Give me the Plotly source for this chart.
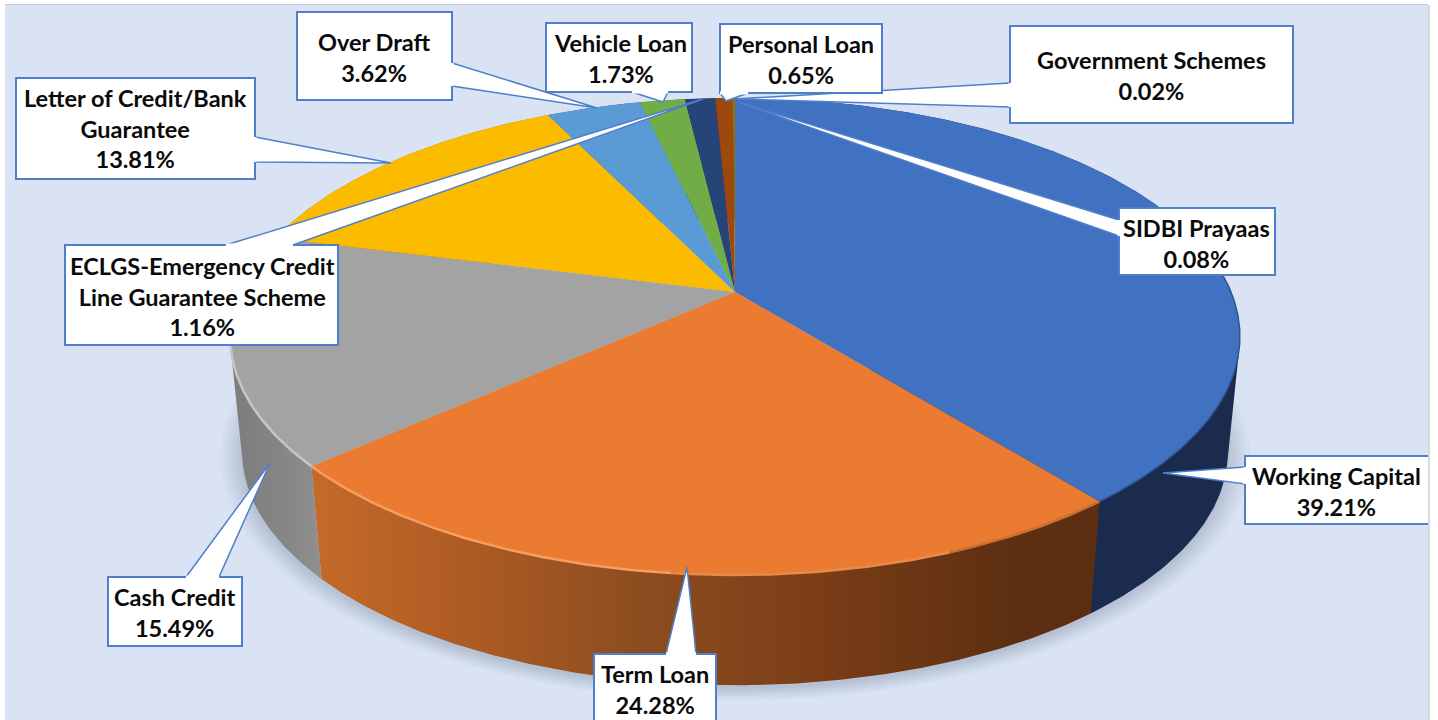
import numpy as np
import plotly.graph_objects as go

# ---------- data ----------
categories = ["Working Capital", "Term Loan", "Cash Credit", "Letter of Credit/Bank Guarantee",
              "Over Draft", "Vehicle Loan", "ECLGS-Emergency Credit Line Guarantee Scheme",
              "Personal Loan", "Government Schemes", "SIDBI Prayaas"]
values = [39.21, 24.28, 15.49, 13.81, 3.62, 1.73, 1.16, 0.65, 0.02, 0.08]
label_texts = ["Working Capital", "Term Loan", "Cash Credit", "Letter of Credit/Bank<br>Guarantee",
               "Over Draft", "Vehicle Loan", "ECLGS-Emergency Credit<br>Line Guarantee Scheme",
               "Personal Loan", "Government Schemes", "SIDBI Prayaas"]

# ---------- styles ----------
top_colors = ["#4171C1", "#EB7B30", "#A3A3A3", "#FBBC00", "#5B9BD5", "#70AD47",
              "#264478", "#9E480E", "#636363", "#997300"]
side_scales = [
    [[0, "#1B2B4D"], [1, "#1B2B4D"]],
    [[0, "#C56A2A"], [0.2, "#AD5B23"], [0.4, "#8F4E20"], [0.65, "#7A3D17"], [0.88, "#5E2F11"], [1, "#5C2E12"]],
    [[0, "#7C7C7C"], [0.6, "#868686"], [1, "#909090"]],
    [[0, "#A88000"], [1, "#A88000"]],
    [[0, "#3D6C96"], [1, "#3D6C96"]],
    [[0, "#4E7A32"], [1, "#4E7A32"]],
    [[0, "#1A3054"], [1, "#1A3054"]],
    [[0, "#6E320A"], [1, "#6E320A"]],
    [[0, "#454545"], [1, "#454545"]],
    [[0, "#6B5000"], [1, "#6B5000"]],
]
BG, WHITE, EDGE, INK = "#DAE3F3", "#FFFFFF", "#4F7FCB", "#0A0A0A"
FONT = dict(family="Lato, Carlito, Calibri, sans-serif", size=23.5, color=INK, weight=700)

# ---------- geometry (pixels on the axes) ----------
CX, CY_TOP, CY_BOT, A_R, B_R, TILT, BOT_SCALE = 735.0, 292.0, 409.0, 496.0, 230.2, 0.1866, 0.976


def ring(theta_deg, cy=CY_TOP, scale=1.0):
    t = np.radians(np.asarray(theta_deg, dtype=float))
    depth = -np.cos(t)
    d = 1 - TILT * depth
    return CX + scale * A_R * np.sin(t) / d, cy + scale * B_R * depth / d


def arc(a0, a1, **kw):
    n = max(3, int(abs(a1 - a0) * 2) + 2)
    return ring(np.linspace(a0, a1, n), **kw)


def hull(xs, ys):
    """Convex hull (monotone chain), so the wall follows the straight silhouette between rims."""
    pts = sorted(set(zip(np.round(xs, 3).tolist(), np.round(ys, 3).tolist())))

    def half(seq):
        out = []
        for p in seq:
            while len(out) > 1 and ((out[-1][0] - out[-2][0]) * (p[1] - out[-2][1])
                                    - (out[-1][1] - out[-2][1]) * (p[0] - out[-2][0])) <= 0:
                out.pop()
            out.append(p)
        return out[:-1]

    ring_pts = half(pts) + half(pts[::-1])
    ring_pts.append(ring_pts[0])
    return [p[0] for p in ring_pts], [p[1] for p in ring_pts]


shares = np.array(values) / sum(values) * 360.0
ends = np.cumsum(shares)
starts = ends - shares

fig = go.Figure()

# soft drop shadow under the pie
for grow, alpha in zip([22, 18, 14, 10, 6, 2], [0.035, 0.04, 0.04, 0.045, 0.05, 0.05]):
    sx, sy = arc(0, 360, cy=CY_BOT + 3, scale=BOT_SCALE + grow / 505.0)
    fig.add_trace(go.Scatter(x=sx, y=sy, mode="lines", line=dict(width=0), fill="toself",
                             fillcolor=f"rgba(70,90,120,{alpha})", hoverinfo="skip", showlegend=False))

# extruded side walls
for name, a0, a1, scale_c in zip(categories, starts, ends, side_scales):
    tx, ty = arc(a0, a1)
    bx, by = arc(a1, a0, cy=CY_BOT, scale=BOT_SCALE)
    hx, hy = hull(np.r_[tx, bx], np.r_[ty, by])
    fig.add_trace(go.Scatter(x=hx, y=hy, mode="lines", line=dict(width=0),
                             fill="toself", fillgradient=dict(type="horizontal", colorscale=scale_c),
                             name=name, hoverinfo="skip", showlegend=False))

# top faces
for name, val, a0, a1, color in zip(categories, values, starts, ends, top_colors):
    tx, ty = arc(a0, a1)
    fig.add_trace(go.Scatter(x=np.r_[CX, tx, CX], y=np.r_[CY_TOP, ty, CY_TOP], mode="lines",
                             line=dict(width=0), fill="toself", fillcolor=color, name=name,
                             text=f"{name}: {val:.2f}%", hoverinfo="text", showlegend=False))

# rim highlights
rims = [(ends[0], ends[0] + 18, "#C96F30", 2.5), (ends[0] + 18, ends[0] + 45, "#E88A4A", 2.5),
        (ends[0] + 45, ends[1], "#F69E62", 2.5), (ends[1], ends[1] + 32, "#C6C6C6", 2.5),
        (ends[1] + 32, ends[1] + 40, "#B2B2B2", 2)]
for a0, a1, col, w in rims:
    rx, ry = arc(a0, a1)
    fig.add_trace(go.Scatter(x=rx, y=ry, mode="lines", line=dict(color=col, width=w),
                             hoverinfo="skip", showlegend=False))
# dark soft rim on the right of the blue face
rx, ry = arc(85, ends[0])
fig.add_trace(go.Scatter(x=rx, y=ry, mode="lines", line=dict(color="#2F5496", width=1.5),
                         hoverinfo="skip", showlegend=False))

# ---------- callouts: box (x0, y0, x1, y1), pointer (base A, tip, base B), text centre ----------
callouts = [
    ((1245, 456, 1432, 524), ((1245, 467), (1163, 473), (1245, 484)), (1336, 491)),
    ((594, 654, 716, 730), ((666, 654), (687, 567), (696, 654)), (655, 689)),
    ((108, 577, 242, 646), ((186, 577), (270, 463), (219, 577)), (175, 612)),
    ((16, 78, 255, 179), ((255, 137), (391, 163), (255, 162)), (135, 128)),
    ((297, 12, 452, 100), ((452, 63), (597, 108), (452, 86)), (374, 57)),
    ((546, 23, 692, 92), ((632, 92), (663, 102), (668, 92)), (620, 58)),
    ((65, 245, 338, 345), ((226, 245), (703, 99), (293, 245)), (202, 296)),
    ((720, 24, 882, 93), ((720, 93), (726, 101), (748, 93)), (801, 59)),
    ((1010, 26, 1293, 123), ((1010, 83), (735, 99), (1010, 107)), (1151, 75)),
    ((1119, 208, 1275, 275), ((1119, 220), (738, 102), (1119, 236)), (1196, 243)),
]

shapes = [
    dict(type="rect", x0=5, x1=1428, y0=5, y1=725, fillcolor=BG, line=dict(width=0), layer="below"),
    dict(type="line", x0=5, x1=1428, y0=4.5, y1=4.5, line=dict(color="#C9C9C9", width=1), layer="below"),
    dict(type="line", x0=1429, x1=1429, y0=5, y1=725, line=dict(color="#CDCDCD", width=1.5), layer="below"),
]
annotations = []
for (x0, y0, x1, y1), pts, _ in callouts:
    shapes.append(dict(type="path", xref="x", yref="y", layer="above",
                       path=f"M{pts[0][0]},{pts[0][1]} L{pts[1][0]},{pts[1][1]} L{pts[2][0]},{pts[2][1]} Z",
                       fillcolor=WHITE, line=dict(color=EDGE, width=1.5)))
for (x0, y0, x1, y1), pts, _ in callouts:
    # box outline, with the pointer's base left open
    shapes.append(dict(type="rect", layer="above", x0=x0, x1=x1, y0=y0, y1=y1,
                       fillcolor=WHITE, line=dict(color=EDGE, width=2)))
    ax, ay = pts[0]
    bx, by = pts[2]
    shapes.append(dict(type="line", layer="above", x0=ax, y0=ay, x1=bx, y1=by,
                       line=dict(color=WHITE, width=3)))
# repaint the right margin over the clipped Working Capital box
shapes.append(dict(type="rect", layer="above", x0=1428, x1=1438, y0=450, y1=530,
                   fillcolor=WHITE, line=dict(width=0)))
shapes.append(dict(type="line", layer="above", x0=1429, x1=1429, y0=450, y1=530,
                   line=dict(color="#CDCDCD", width=1.5)))

for (box, pts, (tx, ty)), txt, val in zip(callouts, label_texts, values):
    annotations.append(dict(x=tx, y=ty, text=f"{txt}<br>{val:.2f}%", showarrow=False,
                            xanchor="center", yanchor="middle", align="center", font=FONT))

fig.update_layout(
    width=1438, height=720, autosize=False,
    margin=dict(l=0, r=0, t=0, b=0),
    paper_bgcolor=WHITE, plot_bgcolor=WHITE,
    xaxis=dict(range=[0, 1438], visible=False, fixedrange=True),
    yaxis=dict(range=[720, 0], visible=False, fixedrange=True),
    shapes=shapes, annotations=annotations, showlegend=False,
)
fig.write_html("out.html", config=dict(displayModeBar=False),
               post_script="document.body.style.margin='0';document.body.style.overflow='hidden';")
